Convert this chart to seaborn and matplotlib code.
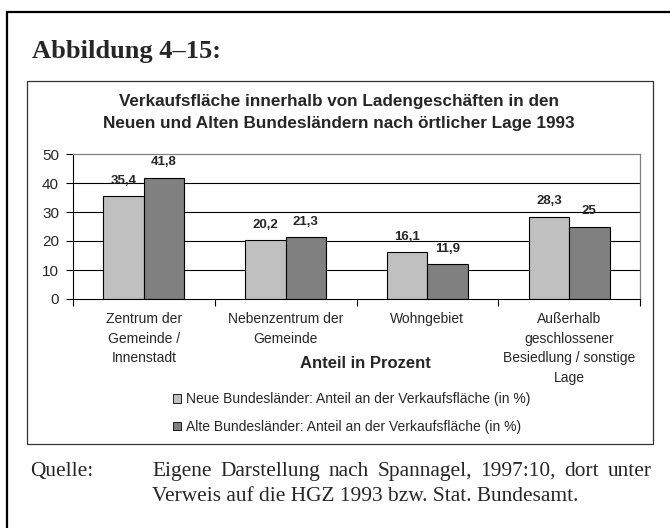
import numpy as np
import pandas as pd
import seaborn as sns
import matplotlib.pyplot as plt
from matplotlib.patches import Rectangle, Patch

# Daten
kategorien = ["Zentrum der\nGemeinde /\nInnenstadt",
              "Nebenzentrum der\nGemeinde",
              "Wohngebiet",
              "Außerhalb\ngeschlossener\nBesiedlung / sonstige\nLage"]
neue = [35.4, 20.2, 16.1, 28.3]
alte = [41.8, 21.3, 11.9, 25.0]
serien = ["Neue Bundesländer: Anteil an der Verkaufsfläche (in %)",
          "Alte Bundesländer: Anteil an der Verkaufsfläche (in %)"]
farben = ["#c0c0c0", "#808080"]
yticks = [0, 10, 20, 30, 40, 50]

W, H = 670, 528


def fx(px):
    return px / W


def fy(py):
    return 1 - py / H


def blocksatz(fig, woerter, x0, x1, y, **kw):
    # Woerter einer Zeile im Blocksatz zwischen x0 und x1 verteilen
    r = fig.canvas.get_renderer()
    texte = [fig.text(0, fy(y), w, va="baseline", ha="left", **kw) for w in woerter]
    breiten = [t.get_window_extent(r).width for t in texte]
    luecke = (x1 - x0 - sum(breiten)) / (len(woerter) - 1)
    x = x0
    for t, b in zip(texte, breiten):
        t.set_x(fx(x))
        x += b + luecke


sns.set_theme(style="white")
plt.rcParams["font.family"] = ["Liberation Sans", "DejaVu Sans"]

fig = plt.figure(figsize=(6.7, 5.28), dpi=100)
fig.patch.set_facecolor("white")

# Rahmen aussen (rechts und unten abgeschnitten) und Diagrammrahmen
fig.add_artist(Rectangle((fx(7), fy(700)), 1.0, fy(12) - fy(700),
                         transform=fig.transFigure, fill=False, lw=1.6, ec="black"))
fig.add_artist(Rectangle((fx(27), fy(444)), fx(653) - fx(27), fy(81) - fy(444),
                         transform=fig.transFigure, fill=False, lw=0.9, ec="#333333"))

ax = fig.add_axes([fx(73), fy(299), fx(640) - fx(73), fy(154) - fy(299)])

df = pd.DataFrame({
    "Lage": kategorien * 2,
    "Serie": [serien[0]] * 4 + [serien[1]] * 4,
    "Anteil": neue + alte,
})

sns.barplot(data=df, x="Lage", y="Anteil", hue="Serie", palette=farben,
            saturation=1, width=0.571, edgecolor="black", linewidth=0.8,
            legend=False, ax=ax)

ax.set_xlim(-0.5, 3.5)
ax.set_ylim(0, 50)
ax.set_yticks(yticks)
ax.set_xlabel("")
ax.set_ylabel("")
ax.set_facecolor("white")

for s in ["top", "right"]:
    ax.spines[s].set_color("#808080")
    ax.spines[s].set_linewidth(0.9)
for s in ["left", "bottom"]:
    ax.spines[s].set_color("black")
    ax.spines[s].set_linewidth(0.8)

ax.grid(axis="y", color="black", lw=0.8)
ax.set_axisbelow(True)
gl = ax.yaxis.get_gridlines()
gl[0].set_visible(False)
gl[-1].set_visible(False)

ax.tick_params(axis="y", which="major", left=True, length=5, width=0.8,
               color="black", direction="out", pad=5, labelsize=11)
ax.tick_params(axis="x", which="major", length=0, pad=9.5, labelsize=10)
ax.set_xticks(np.arange(-0.5, 4, 1), minor=True)
ax.tick_params(axis="x", which="minor", bottom=True, length=5, width=0.8,
               color="black", direction="out")
for lbl in ax.get_xticklabels():
    lbl.set_linespacing(1.5)

# Datenbeschriftung
for cont, werte in zip(ax.containers, [neue, alte]):
    ax.bar_label(cont, labels=[f"{v:g}".replace(".", ",") for v in werte],
                 padding=7, fontsize=9.5, fontweight="bold")

# Texte
fig.text(fx(32), fy(58), "Abbildung 4–15:", family=["Liberation Serif"],
         fontweight="bold", fontsize=19, va="baseline", ha="left")
fig.text(fx(339), fy(106), "Verkaufsfläche innerhalb von Ladengeschäften in den",
         fontweight="bold", fontsize=12.3, ha="center", va="baseline")
fig.text(fx(339), fy(128), "Neuen und Alten Bundesländern nach örtlicher Lage 1993",
         fontweight="bold", fontsize=12.3, ha="center", va="baseline")
fig.text(fx(365), fy(364), "Anteil in Prozent", fontweight="bold", fontsize=12,
         ha="center", va="center")

handles = [Patch(facecolor=c, edgecolor="black", lw=0.6) for c in farben]
fig.legend(handles, serien, loc="upper left", bbox_to_anchor=(fx(173), fy(392)),
           frameon=False, fontsize=10, handlelength=0.6, handleheight=0.6,
           handletextpad=0.3, labelspacing=1.0, borderpad=0, borderaxespad=0)

# Quelle
serif = dict(family=["Liberation Serif"], fontsize=15.4)
fig.text(fx(30), fy(476), "Quelle:", va="baseline", ha="left", **serif)
blocksatz(fig, "Eigene Darstellung nach Spannagel, 1997:10, dort unter".split(),
          152, 652, 476, **serif)
fig.text(fx(152), fy(501), "Verweis auf die HGZ 1993 bzw. Stat. Bundesamt.",
         va="baseline", ha="left", **serif)

fig.savefig("out.png", dpi=100)
